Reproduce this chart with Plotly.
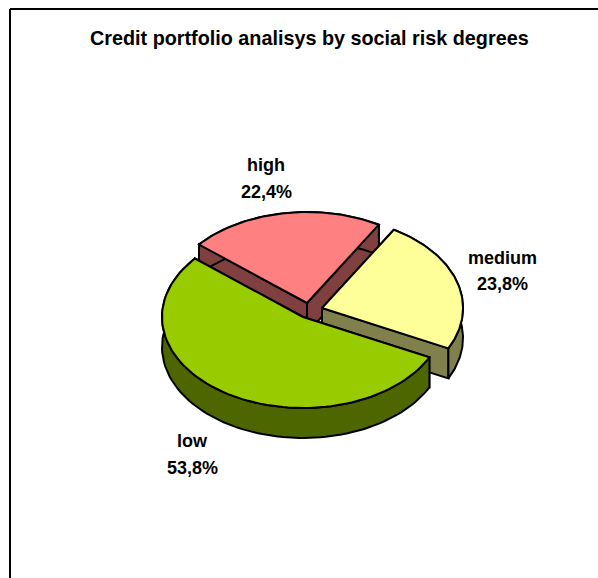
import numpy as np
import plotly.graph_objects as go

# Shares in percent, listed clockwise starting from the top-left cut of the pie
categories = ["high", "medium", "low"]
shares = [22.4, 23.8, 53.8]
top_colors = ["#FF8080", "#FFFF99", "#99CC00"]
side_colors = ["#804040", "#80804D", "#4D6600"]

title_text = "Credit portfolio analisys by social risk degrees"

# Pie projection in canvas pixels: tilted ellipse, wall height, exploded apex of each slice
WIDTH, HEIGHT = 598, 578
RX, RY, DEPTH = 141, 91, 30
START_ANGLE = 140.0
apex_x = [307, 322, 303]
apex_y = [303, 308, 317]
label_x = [266, 502, 192]
name_y = [165, 258, 441]
value_y = [192, 284, 468]
FONT = "Liberation Sans, Arial, sans-serif"
EDGE = dict(color="black", width=2)


def polygon(fig, xs, ys, color):
    fig.add_trace(go.Scatter(
        x=np.append(xs, xs[0]), y=np.append(ys, ys[0]),
        mode="lines", fill="toself", fillcolor=color, line=EDGE,
        hoverinfo="skip", showlegend=False,
    ))


def draw_slice(fig, cx, cy, a0, a1, top, side):
    t = np.radians(np.linspace(a0, a1, 90))
    ax = cx + RX * np.cos(t)
    ay = cy - RY * np.sin(t)
    # Two cut faces, the outer wall, then the top face over them
    for ex, ey in ((ax[0], ay[0]), (ax[-1], ay[-1])):
        polygon(fig,
                np.array([cx, ex, ex, cx]),
                np.array([cy, ey, ey + DEPTH, cy + DEPTH]),
                side)
    polygon(fig, np.concatenate([ax, ax[::-1]]),
            np.concatenate([ay, ay[::-1] + DEPTH]), side)
    polygon(fig, np.concatenate([[cx], ax]), np.concatenate([[cy], ay]), top)


def text_note(x, y, text, size):
    return dict(
        x=x, y=y, xref="x", yref="y", showarrow=False,
        text=f"<b>{text}</b>",
        font=dict(family=FONT, size=size, color="black"),
        xanchor="center", yanchor="middle",
    )


fig = go.Figure()
angle = START_ANGLE
annotations = [text_note(309, 38, title_text, 19.8)]
for i, name in enumerate(categories):
    sweep = shares[i] * 3.6
    draw_slice(fig, apex_x[i], apex_y[i], angle, angle - sweep,
               top_colors[i], side_colors[i])
    angle -= sweep
    annotations.append(text_note(label_x[i], name_y[i], name, 18))
    annotations.append(text_note(label_x[i], value_y[i],
                                 f"{shares[i]:.1f}%".replace(".", ","), 18))

fig.update_layout(
    width=WIDTH, height=HEIGHT,
    margin=dict(l=0, r=0, t=0, b=0),
    paper_bgcolor="white", plot_bgcolor="white",
    xaxis=dict(range=[0, WIDTH], visible=False, fixedrange=True),
    yaxis=dict(range=[HEIGHT, 0], visible=False, fixedrange=True),
    annotations=annotations,
    shapes=[
        dict(type="line", xref="x", yref="y", x0=10, y0=9, x1=WIDTH, y1=9,
             line=dict(color="black", width=2)),
        dict(type="line", xref="x", yref="y", x0=10, y0=9, x1=10, y1=HEIGHT,
             line=dict(color="black", width=2)),
    ],
)

fig.write_html("out.html", config=dict(displayModeBar=False))
